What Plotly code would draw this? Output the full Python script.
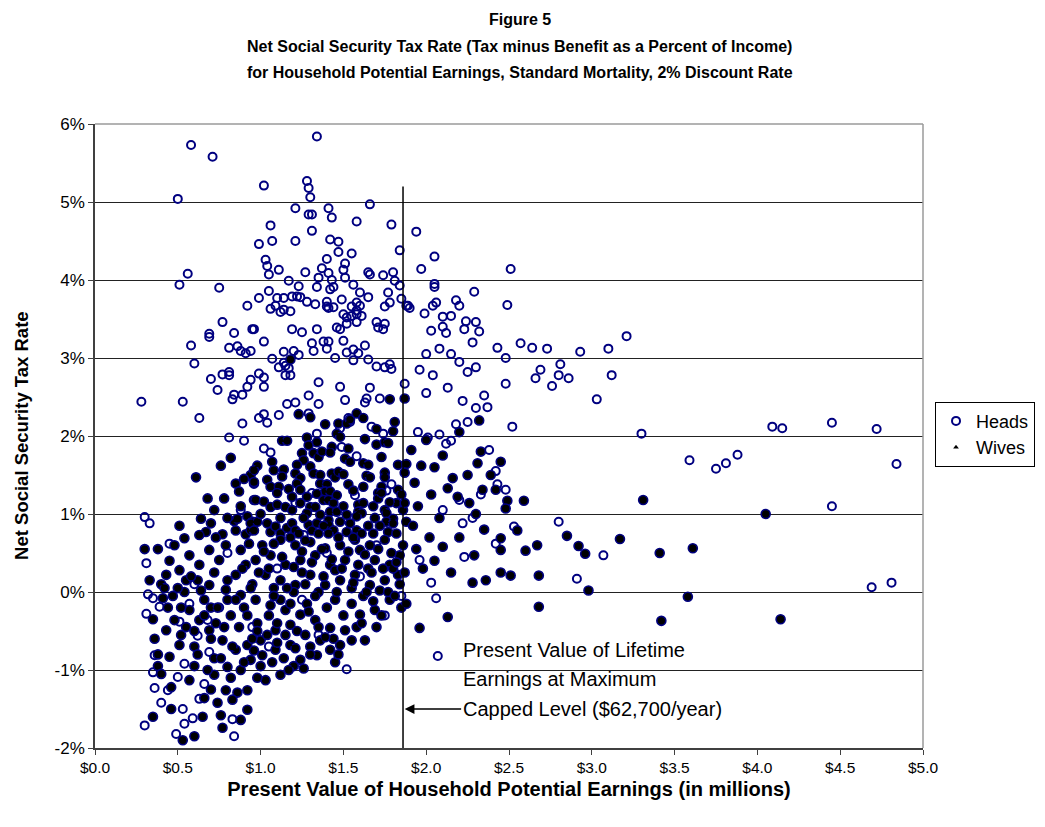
import plotly.graph_objects as go

# Household potential earnings (millions of dollars) and net tax rate (%) - heads of household
heads_x = [
    0.58, 0.71, 0.50, 0.56, 0.51, 0.75, 0.92, 0.77, 0.84, 0.95, 0.69,
    1.34, 1.02, 1.28, 1.29, 1.30, 1.21, 1.41, 1.43, 1.66, 1.29, 1.31, 1.06, 1.58, 1.79, 1.31,
    0.99, 1.07, 1.21, 1.42, 1.47, 1.84, 1.47, 1.55, 1.03, 1.04, 1.05, 1.11, 1.27, 1.40, 1.37,
    1.51, 1.50, 1.41, 1.65, 1.66, 1.74, 1.80, 1.81, 1.84, 1.35, 1.43, 1.51, 1.17, 1.23, 1.34,
    1.44, 1.42, 1.56, 1.60, 1.77, 1.05, 0.99, 1.10, 1.14, 1.19, 1.22, 1.24, 1.28, 1.33, 1.40,
    1.40, 1.41, 1.44, 1.49, 1.55, 1.58, 1.60, 1.58, 1.55, 1.58, 1.61, 1.52, 1.50, 1.58, 1.52,
    1.65, 1.75, 1.78, 1.85, 1.88, 1.70, 1.75, 1.71, 1.74, 1.06, 1.09, 1.12, 1.14, 1.18, 0.96,
    1.19, 1.25, 1.34, 1.46, 1.48,
    1.94, 2.05, 1.97, 2.51, 2.05, 2.05, 2.29, 1.89, 1.90, 2.04, 2.06, 2.18, 2.20, 2.49, 1.99,
    2.10, 2.15, 2.24, 2.30, 2.03, 2.10, 2.12, 2.23, 2.32,
    0.58, 0.69, 0.81, 0.86, 0.88, 0.91, 0.94, 0.60, 0.70, 0.77, 0.81, 0.81, 0.74, 0.94, 0.92,
    0.89, 0.84, 0.83, 0.28, 0.53, 0.63, 0.89, 0.81, 0.90, 0.88, 0.30, 0.33,
    1.02, 1.31, 1.32, 1.38, 1.41, 1.40, 1.50, 1.52, 1.56, 1.59, 1.63, 1.56, 1.65, 1.45, 1.23,
    1.20, 1.14, 1.14, 1.11, 1.07, 1.15, 1.17, 1.15, 1.18, 0.99, 1.02, 1.02, 1.35, 1.48, 1.66,
    1.64, 1.63, 1.72, 1.78, 1.79, 1.75, 1.70, 1.87, 1.29, 1.35, 1.51, 1.21, 1.16, 1.11, 0.99,
    1.02, 1.04, 1.29, 1.53, 1.54, 1.48, 1.67, 1.74, 1.02, 1.06, 1.49, 1.58, 1.34, 1.31, 1.57,
    1.79, 1.76, 1.21, 1.26,
    2.15, 2.20, 2.25, 2.30, 2.28, 2.43, 2.48, 2.48, 2.57, 2.64, 2.73, 2.81, 2.93, 3.10, 3.21,
    3.03, 3.12, 2.69, 2.66, 2.80, 2.76, 2.86, 2.52, 3.30, 3.59, 3.75, 3.81, 3.88, 4.09, 4.15,
    4.45, 4.72, 4.84, 4.45, 4.69, 4.81,
    2.22, 2.30, 2.35, 2.15, 2.37, 2.06, 2.07, 1.96, 2.03, 2.22, 2.23, 2.53, 2.80, 3.07, 2.91,
    2.48, 2.43, 1.95, 2.01, 2.08, 2.12, 2.00, 2.08, 1.96, 2.04, 2.13, 2.00, 2.18, 2.25, 2.38,
    2.42, 2.33, 2.20, 2.10, 2.28, 2.42,
    0.31, 0.32, 0.35, 0.39, 0.31, 0.36, 0.35, 0.36, 0.30, 0.40, 0.44, 0.49, 0.54, 0.53, 0.50,
    0.54, 0.59, 0.63, 0.66, 0.83, 0.84, 0.51, 0.62, 0.69, 1.52, 0.57, 0.68,
    0.45, 0.60, 0.75, 0.95, 1.10, 1.25, 1.40, 1.60, 1.75, 1.05, 0.80, 1.35, 1.70, 1.85,
]
heads_y = [
    5.73, 5.58, 5.04, 4.08, 3.94, 3.90, 3.67, 3.46, 3.32, 3.37, 3.31,
    5.84, 5.21, 5.27, 5.18, 5.06, 4.92, 4.92, 4.80, 4.97, 4.84, 4.84, 4.70, 4.75, 4.71, 4.63,
    4.46, 4.50, 4.50, 4.52, 4.49, 4.38, 4.36, 4.34, 4.26, 4.18, 4.07, 4.13, 4.10, 4.27, 4.15,
    4.21, 4.13, 4.09, 4.10, 4.07, 4.06, 4.10, 3.99, 3.93, 4.03, 4.00, 4.03, 3.99, 3.92, 3.91,
    3.91, 3.88, 3.94, 3.84, 3.84, 3.86, 3.77, 3.77, 3.77, 3.79, 3.79, 3.78, 3.72, 3.69, 3.72,
    3.66, 3.64, 3.65, 3.75, 3.66, 3.71, 3.67, 3.61, 3.54, 3.56, 3.54, 3.52, 3.56, 3.46, 3.44,
    3.78, 3.66, 3.71, 3.76, 3.67, 3.46, 3.44, 3.39, 3.37, 3.63, 3.67, 3.59, 3.62, 3.60, 3.37,
    3.37, 3.33, 3.37, 3.39, 3.37,
    4.62, 4.30, 4.14, 4.14, 3.95, 3.91, 3.85, 3.67, 3.64, 3.67, 3.71, 3.74, 3.67, 3.68, 3.57,
    3.53, 3.54, 3.47, 3.46, 3.35, 3.40, 3.32, 3.37, 3.34,
    3.16, 3.27, 3.13, 3.15, 3.09, 3.06, 3.09, 2.93, 2.73, 2.79, 2.82, 2.78, 2.59, 2.72, 2.63,
    2.53, 2.53, 2.47, 2.44, 2.44, 2.23, 2.16, 1.98, 1.94, 1.05, 0.96, 0.88,
    3.21, 3.19, 3.09, 3.21, 3.21, 3.12, 3.22, 3.07, 3.11, 3.06, 3.16, 2.97, 2.98, 3.00, 3.04,
    3.09, 3.08, 2.94, 2.88, 2.99, 2.90, 2.87, 2.78, 2.78, 2.80, 2.75, 2.63, 2.69, 2.63, 2.62,
    2.48, 2.43, 2.48, 2.92, 2.86, 2.88, 2.89, 2.67, 2.52, 2.41, 2.46, 2.43, 2.41, 2.27, 2.23,
    2.28, 2.17, 2.29, 2.23, 2.18, 2.10, 2.12, 2.03, 1.84, 1.79, 1.86, 1.74, 2.03, 1.27, 1.24,
    1.38, 1.30, 1.14, 0.73,
    3.05, 2.95, 2.82, 2.88, 3.20, 3.13, 3.00, 2.67, 3.19, 3.13, 3.12, 2.92, 3.08, 3.12, 3.28,
    2.47, 2.78, 2.85, 2.74, 2.78, 2.64, 2.74, 2.12, 2.03, 1.69, 1.58, 1.65, 1.76, 2.12, 2.10,
    2.17, 2.09, 1.64, 1.10, 0.06, 0.12,
    2.45, 2.36, 2.52, 1.94, 2.37, -0.08, -0.82, 0.41, 0.12, 0.88, 0.45, 0.84, 0.90, 0.47, 0.17,
    1.31, 1.38, 2.05, 1.98, 2.02, 1.90, 3.05, 3.12, 2.85, 2.78, 2.62, 2.55, 2.15, 2.18, 1.82,
    1.55, 1.25, 1.18, 1.05, 0.95, 0.62,
    0.37, -0.03, -0.08, -0.19, -0.28, -0.81, -1.03, -1.23, -1.71, -1.42, -1.26, -1.82, -1.69, -1.50, -1.09,
    -0.92, -1.62, -1.37, -1.18, -1.63, -1.85, -0.38, -0.56, -0.77, -0.99, -0.15, -0.36,
    0.62, 0.10, -0.20, -0.45, 0.30, -0.10, 0.50, 0.20, -0.30, -0.70, 0.50, -0.55, 0.60, -0.05,
]

# Same measures for wives
wives_x = [
    0.82, 0.61, 0.94, 0.85, 0.87, 0.96, 0.96, 0.51, 0.64, 0.70, 0.67, 0.63, 0.54, 0.84, 0.86,
    0.92, 0.95, 0.85, 0.91, 0.94, 0.77, 0.73,
    1.18, 1.23, 1.30, 1.39, 1.47, 1.52, 1.54, 1.58, 1.62, 1.70, 1.78, 1.81, 1.87, 1.46, 1.48,
    1.63, 1.70, 1.75, 1.77, 1.80, 1.13, 1.16, 1.28, 1.29, 1.34, 1.43, 1.53, 1.25, 1.26, 1.32,
    1.35, 1.37, 1.42, 1.51, 1.54, 1.62, 1.65, 1.73, 1.83, 1.88, 1.87, 0.98, 0.96, 1.07, 1.08,
    1.14, 1.13, 1.22, 1.21, 1.24, 1.22, 1.30, 1.32, 1.36, 1.36, 1.43, 1.45, 1.47, 1.50, 1.53,
    1.40, 1.39, 1.42, 1.64, 1.66, 1.75, 1.75, 1.73, 1.71, 1.83, 0.96, 1.04, 1.06, 1.11, 1.10,
    1.17, 1.19, 1.24, 1.28, 1.34, 1.38, 1.41, 1.46, 1.44, 0.97, 1.02, 1.06, 1.10, 1.15, 1.19,
    1.24, 1.30, 1.28, 1.33, 1.36, 1.42, 1.41, 1.46, 1.59, 1.62, 1.59, 1.61, 1.58, 1.71, 1.73,
    1.75, 1.76, 1.80, 1.82, 1.86, 0.94, 0.98, 0.96, 1.04, 1.06, 1.09, 1.12, 1.16, 1.19, 1.21,
    1.23, 1.29, 1.31, 1.34, 1.35, 1.41, 1.44, 1.41, 1.52, 1.54, 1.52, 1.58, 1.61, 1.68, 1.76,
    1.80, 1.77, 1.82, 1.87, 1.88,
    2.55, 2.45, 2.45, 2.45, 2.51, 2.60, 2.67, 2.68, 2.85, 2.92, 2.96, 3.17, 2.98, 2.68, 2.49,
    2.48, 2.59, 3.31, 2.31, 2.45, 2.39, 2.42, 2.34, 2.26, 2.19, 2.16, 2.13, 2.29, 2.36, 2.28,
    2.13, 1.96, 3.41, 3.42, 3.58, 3.61, 4.05, 4.14,
    1.91, 2.00, 1.97, 1.93, 2.03, 1.95, 2.08, 1.92, 2.02, 1.94, 2.10, 1.98, 2.15, 2.05, 2.20,
    2.30, 2.35, 2.25, 2.33, 2.05, 2.10, 2.20, 2.32,
    0.43, 0.41, 0.45, 0.46, 0.53, 0.57, 0.60, 0.66, 0.74, 0.76, 0.77, 0.79, 0.86, 0.92, 0.72,
    0.80, 0.88, 0.94, 1.01, 1.09, 1.00, 0.92, 0.85, 0.77, 0.69, 0.63, 0.51, 0.48, 0.43, 0.57,
    0.66, 0.54, 0.47, 0.69, 0.79, 0.88, 0.97, 1.06, 1.15, 1.24, 1.33, 1.42, 1.18, 1.09, 1.27,
    1.36, 1.18, 1.24, 1.34, 1.42, 1.48, 1.51, 1.60, 1.69, 1.78, 1.63, 1.12, 1.03, 0.92, 0.88,
    0.83,
    0.97, 1.06, 1.15, 1.24, 1.33, 1.42, 1.51, 1.60, 1.69, 1.78, 1.84, 1.03, 1.12, 1.21, 1.30,
    1.39, 1.48, 1.57, 1.66, 1.75, 1.83, 0.91, 0.85, 0.75, 0.69, 0.63, 0.57, 0.51, 0.79, 0.88,
    1.01, 1.12, 1.21, 1.30, 1.39, 1.48, 1.57, 1.66, 1.75,
    0.40, 0.36, 0.38, 0.52, 0.60, 0.72, 0.70, 0.82, 0.90, 0.98, 1.05, 1.12, 1.20, 1.28, 1.35,
    1.45, 1.55, 1.62, 1.72, 1.80, 1.65, 1.45, 1.25, 1.08, 0.95, 0.80, 0.73, 0.95, 1.15, 1.30,
    1.45, 1.58, 1.70, 1.85, 0.62, 0.45, 0.38, 0.55, 0.65, 0.70, 0.98, 1.20, 0.60, 0.35,
    1.02, 1.05, 1.08, 1.10, 1.13, 1.16, 1.18, 1.20, 1.22, 1.25, 1.27, 1.29, 1.31, 1.33, 1.35,
    1.37, 1.38, 1.40, 1.43, 1.44, 1.46, 1.49, 1.50, 1.53, 1.55, 1.56, 1.59, 1.61, 1.63, 1.64,
    1.67, 1.68, 1.71, 1.73, 1.74, 1.77, 1.79, 1.81, 1.82, 1.84, 1.86, 1.87, 1.88,
    0.50, 0.52, 0.55, 0.58, 0.60, 0.62, 0.64, 0.66, 0.68, 0.70, 0.72, 0.74, 0.76, 0.78, 0.80,
    0.82, 0.83, 0.85, 0.87, 0.89, 0.90, 0.92, 0.94, 0.96, 0.98, 0.99,
    1.00, 1.04, 1.07, 1.10, 1.14, 1.17, 1.21, 1.26, 1.30, 1.39, 1.47, 1.55,
    0.30, 0.33, 0.35, 0.38, 0.40, 0.42, 0.44, 0.46, 0.48,
    1.00, 1.12, 1.26, 1.38, 1.48, 1.50, 1.56, 1.62, 1.68, 1.69, 1.78, 1.85, 1.56, 1.47, 1.65,
    1.72, 1.27, 1.18, 1.08, 0.93,
    0.72, 0.78, 0.80, 0.88, 0.90, 0.76, 0.68,
]
wives_y = [
    1.72, 1.47, 1.50, 1.39, 1.29, 1.39, 1.18, 0.85, 0.94, 0.88, 0.77, 0.73, 0.69, 0.91, 0.94,
    0.97, 0.90, 0.79, 0.74, 0.79, 0.74, 0.70,
    2.98, 2.28, 2.24, 2.15, 2.16, 2.16, 2.21, 2.29, 2.23, 2.09, 2.47, 2.18, 2.48, 2.03, 1.99,
    1.96, 1.89, 1.92, 1.91, 2.06, 1.94, 1.94, 1.98, 1.88, 1.92, 1.86, 1.84, 1.78, 1.69, 1.78,
    1.73, 1.80, 1.79, 1.71, 1.67, 1.65, 1.63, 1.73, 1.63, 1.64, 1.53, 1.62, 1.56, 1.67, 1.56,
    1.57, 1.48, 1.63, 1.52, 1.46, 1.39, 1.61, 1.52, 1.50, 1.39, 1.52, 1.47, 1.54, 1.51, 1.38,
    1.38, 1.29, 1.29, 1.49, 1.47, 1.53, 1.47, 1.35, 1.27, 1.31, 1.41, 1.44, 1.35, 1.35, 1.27,
    1.32, 1.22, 1.31, 1.22, 1.26, 1.18, 1.18, 1.24, 1.14, 1.18, 1.16, 1.09, 1.12, 1.09, 1.05,
    1.14, 1.09, 1.01, 1.09, 0.99, 1.03, 0.92, 1.03, 1.12, 1.14, 1.03, 1.01, 0.97, 1.20, 1.27,
    1.05, 1.01, 0.94, 1.14, 1.05, 0.88, 0.90, 0.79, 0.88, 0.77, 0.84, 0.75, 0.82, 0.88, 0.79,
    0.75, 0.86, 0.79, 0.88, 0.75, 0.86, 0.79, 0.75, 0.99, 0.88, 0.77, 0.79, 0.75, 0.75, 0.90,
    0.88, 0.77, 0.75, 1.14, 0.90,
    0.79, 0.69, 0.54, 0.25, 0.21, 0.53, 0.60, 0.21, 0.72, 0.59, 0.49, 0.68, 0.02, -0.19, 1.17,
    1.07, 1.17, 1.18, 1.65, 1.67, 1.50, 1.31, 1.31, 1.14, 1.22, 1.46, 1.33, 0.47, 0.15, 0.12,
    -0.32, -0.46, 0.50, -0.37, -0.06, 0.56, 1.00, -0.35,
    1.82, 1.95, 1.62, 1.40, 1.25, 1.10, 0.95, 0.85, 0.70, 0.55, 0.58, 0.30, 0.25, 0.40, 0.70,
    1.00, 0.80, 1.50, 1.80, 1.60, 1.75, 2.05, 2.20,
    0.22, -0.08, -0.83, -1.22, -1.90, -1.13, -0.95, -1.36, -1.42, -1.58, -1.74, -1.26, -1.29, -1.26, -1.06,
    -0.96, -1.00, -0.87, -0.81, -0.74, -0.62, -0.68, -0.74, -0.62, -0.49, -0.36, -0.68, -0.36, -0.49, -0.23,
    -0.10, 0.00, -0.05, 0.09, 0.03, -0.04, -0.10, -0.17, -0.23, -0.29, -0.36, -0.46, -0.42, -0.49, -0.55,
    -0.62, -0.68, -0.87, -0.81, -0.74, -0.68, -0.49, -0.29, -0.23, -0.10, -0.62, -1.06, -1.13, -1.51, -1.64,
    -1.38,
    0.41, 0.47, 0.35, 0.41, 0.47, 0.35, 0.41, 0.54, 0.41, 0.35, 0.47, 0.22, 0.15, 0.09, 0.22,
    0.09, 0.15, 0.22, 0.09, 0.15, 0.22, 0.35, 0.22, 0.41, 0.54, 0.35, 0.47, 0.28, 0.60, 0.54,
    0.60, 0.67, 0.60, 0.64, 0.56, 0.60, 0.67, 0.60, 0.67,
    0.10, -0.60, -0.95, -0.55, -0.70, -0.85, -0.20, -0.30, -0.20, -0.40, -0.30, -0.10, 0.00, -0.15, 0.00,
    -0.10, 0.05, -0.05, 0.02, 0.30, 0.30, 0.28, 0.25, 0.05, 0.10, -0.10, -0.40, -0.60, -0.55, -0.70,
    -0.90, -0.45, -0.45, -0.20, 0.15, 0.40, 0.55, 0.15, -1.60, -1.25, -1.10, -0.95, -1.85, -1.60,
    0.52, 0.30, -0.05, -0.40, 0.45, 0.05, -0.15, 0.32, -0.50, 0.52, 0.10, -0.25, 0.38, -0.05, -0.45,
    0.55, 0.20, -0.20, 0.42, -0.60, 0.00, 0.30, -0.30, 0.52, -0.15, 0.12, 0.35, -0.40, 0.48, 0.00,
    0.25, -0.12, 0.55, -0.30, 0.30, 0.00, 0.50, -0.05, 0.38, 0.10, 0.60, 0.25, -0.15,
    0.05, -0.20, -0.45, 0.20, -0.50, -0.80, 0.02, -0.30, -1.00, -0.60, 0.25, -0.20, -0.85, -0.45, 0.15,
    -1.10, -0.70, -0.10, -0.45, 0.30, -0.90, -0.30, 0.05, -0.75, -0.50, 0.25,
    -0.95, -0.55, -0.90, -0.65, -0.85, -1.00, -0.72, -0.98, -0.80, -0.58, -0.80, -0.62,
    0.55, 0.15, -0.35, -0.80, -1.05, 0.05, -0.20, -1.50, 0.60,
    1.00, 0.95, 0.95, 0.85, 0.90, 1.10, 1.30, 1.35, 1.10, 0.95, 1.15, 1.25, 0.70, 0.70, 0.85,
    0.85, 0.66, 0.70, 0.62, 0.62,
    1.05, 1.20, 0.95, 1.10, 1.45, 1.62, 1.20,
]

x_tick_vals = [0, 0.5, 1.0, 1.5, 2.0, 2.5, 3.0, 3.5, 4.0, 4.5, 5.0]
x_tick_text = ["$0.0", "$0.5", "$1.0", "$1.5", "$2.0", "$2.5", "$3.0", "$3.5", "$4.0", "$4.5", "$5.0"]
y_tick_vals = [-2, -1, 0, 1, 2, 3, 4, 5, 6]
y_tick_text = ["-2%", "-1%", "0%", "1%", "2%", "3%", "4%", "5%", "6%"]

# Earnings level corresponding to the taxable maximum
cap_x = 1.86
cap_top = 5.2
note_lines = ["Present Value of Lifetime", "Earnings at Maximum", "Capped Level ($62,700/year)"]
note_x = 2.21
note_y = [-0.74, -1.12, -1.50]

NAVY = "#000080"
ARIAL = "Liberation Sans, Arial, sans-serif"

fig = go.Figure()
fig.add_trace(go.Scatter(
    x=heads_x, y=heads_y, mode="markers", name="Heads",
    marker=dict(symbol="circle-open", size=8, color=NAVY, line=dict(width=2, color=NAVY)),
))
fig.add_trace(go.Scatter(
    x=wives_x, y=wives_y, mode="markers", name="Wives", legendgroup="w", showlegend=False,
    marker=dict(symbol="circle", size=9, color="#000000", line=dict(width=1.6, color=NAVY)),
))
fig.add_trace(go.Scatter(
    x=wives_x, y=wives_y, mode="markers", name="Wives", legendgroup="w",
    marker=dict(symbol="triangle-up", size=5, color="#000000", line=dict(width=0)),
))

# Vertical reference line at the capped earnings level
fig.add_shape(type="line", x0=cap_x, x1=cap_x, y0=-2, y1=cap_top, xref="x", yref="y",
              line=dict(color="#000000", width=1.5), layer="above")
# Plot-area border (top and right)
fig.add_shape(type="line", x0=0, x1=1, y0=1, y1=1, xref="paper", yref="paper",
              line=dict(color="#9a9a9a", width=1.5))
fig.add_shape(type="line", x0=1, x1=1, y0=0, y1=1, xref="paper", yref="paper",
              line=dict(color="#9a9a9a", width=1.5))

for txt, yy in zip(note_lines, note_y):
    fig.add_annotation(x=note_x, y=yy, xref="x", yref="y", text=txt, showarrow=False,
                       xanchor="left", yanchor="middle",
                       font=dict(family=ARIAL, size=20, color="#000000"))
fig.add_annotation(x=cap_x + 0.01, y=note_y[2], ax=note_x + 0.01, ay=note_y[2],
                   xref="x", yref="y", axref="x", ayref="y", text="", showarrow=True,
                   arrowhead=2, arrowsize=1.3, arrowwidth=1.5, arrowcolor="#000000")

title_lines = [
    "Figure 5",
    "Net Social Security Tax Rate (Tax minus Benefit as a Percent of Income)",
    "for Household Potential Earnings, Standard Mortality, 2% Discount Rate",
]
title_px = [20, 46, 72]
for t, py in zip(title_lines, title_px):
    fig.add_annotation(x=0.513, y=1 + (124 - py) / 624.0, xref="paper", yref="paper",
                       text="<b>" + t + "</b>", showarrow=False,
                       xanchor="center", yanchor="middle",
                       font=dict(family=ARIAL, size=16, color="#000000", weight="bold"))

# Y-axis title placed by hand, rotated
fig.add_annotation(x=-0.0895, y=0.5, xref="paper", yref="paper",
                   text="<b>Net Social Security Tax Rate</b>", textangle=-90, showarrow=False,
                   xanchor="center", yanchor="middle",
                   font=dict(family=ARIAL, size=18.5, color="#000000", weight="bold"))

fig.update_layout(
    width=1045, height=827,
    margin=dict(l=95, r=122, t=124, b=79, autoexpand=False),
    paper_bgcolor="#ffffff", plot_bgcolor="#ffffff",
    showlegend=True,
    legend=dict(x=1.0145, y=0.555, xanchor="left", yanchor="top",
                bordercolor="#000000", borderwidth=1, bgcolor="#ffffff",
                font=dict(family=ARIAL, size=18, color="#000000"),
                tracegroupgap=0, itemsizing="trace", itemwidth=30),
    xaxis=dict(range=[0, 5], tickvals=x_tick_vals, ticktext=x_tick_text,
               showgrid=False, zeroline=False, showline=True, linecolor="#404040", linewidth=1.5,
               ticks="outside", ticklen=5, tickcolor="#404040",
               tickfont=dict(family=ARIAL, size=15.5, color="#000000"),
               title=dict(text="<b>Present Value of Household Potential Earnings (in millions)</b>",
                          font=dict(family=ARIAL, size=20, color="#000000"), standoff=7)),
    yaxis=dict(range=[-2, 6], tickvals=y_tick_vals, ticktext=y_tick_text,
               showgrid=True, gridcolor="#222222", gridwidth=1, zeroline=False,
               showline=True, linecolor="#404040", linewidth=1.5,
               ticks="outside", ticklen=5, tickcolor="#404040",
               tickfont=dict(family=ARIAL, size=17, color="#000000")),
)

fig.write_html("out.html")
